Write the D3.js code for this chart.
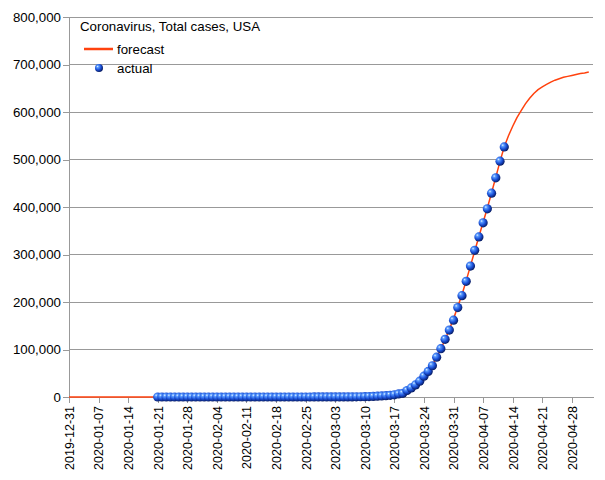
<!DOCTYPE html>
<html>
<head>
<meta charset="utf-8">
<script src="https://cdn.jsdelivr.net/npm/d3@7"></script>
<style>
  body { margin: 0; background: #fff; }
  text { font-family: "Liberation Sans", Arial, sans-serif; fill: #000; }
</style>
</head>
<body>
<div id="chart"></div>
<script>
var title = "Coronavirus, Total cases, USA";
var seriesNames = ["forecast", "actual"];

var xTicks = ["2019-12-31", "2020-01-07", "2020-01-14", "2020-01-21", "2020-01-28", "2020-02-04",
  "2020-02-11", "2020-02-18", "2020-02-25", "2020-03-03", "2020-03-10", "2020-03-17",
  "2020-03-24", "2020-03-31", "2020-04-07", "2020-04-14", "2020-04-21", "2020-04-28"];
var xDomain = ["2019-12-31", "2020-05-03"];
var yTicks = [0, 100000, 200000, 300000, 400000, 500000, 600000, 700000, 800000];

// daily totals, first value on actualStart
var actualStart = "2020-01-21";
var actual = [1, 1,
  1, 1, 2, 2, 5, 5, 5, 5, 5, 7,
  8, 8, 11, 11, 11, 11, 11, 11, 11, 11, 12, 12, 13, 13, 13, 13, 13, 13, 13, 13, 15, 15, 15, 51, 51, 57, 58, 60, 68,
  74, 98, 118, 149, 217, 262, 402, 518, 583, 959, 1281, 1663, 2179, 2727, 3499, 4632, 6421, 7783, 13677, 19100,
  25489, 33276, 43847, 53740, 65778, 83836, 101657, 121478, 140886, 161807, 188172,
  213372, 243453, 275586, 308850, 337072, 366667, 396223, 429052, 461437, 496535, 526396];

// forecast is flat at zero from forecastZeroFrom, then daily values from forecastStart
var forecastZeroFrom = "2019-12-31";
var forecastStart = "2020-02-29";
var forecast = [0,
  30, 45, 65, 95, 140, 200, 290, 410, 580, 820, 1150, 1600, 2200, 3000, 4100, 5500, 7300, 9600, 12500, 16200,
  21000, 27000, 34500, 43500, 54500, 67500, 83000, 101000, 121000, 142000, 165000,
  190000, 216000, 245000, 276000, 307000, 338000, 368000, 398000, 430000, 463000, 496000, 527000, 550000, 570000,
  588000, 603000, 617000, 629000, 639000, 647000, 653000, 658000, 663000, 667000, 670000, 673000, 675000, 677000,
  679000, 681000,
  682000, 684000];

var margin = { top: 17, right: 12, bottom: 83, left: 69 },
  width = 605 - margin.left - margin.right,
  height = 480 - margin.top - margin.bottom;

var parse = d3.utcParse("%Y-%m-%d");
var lineColor = "#ff420e";
var axisColor = "#999999";

var actualData = actual.map(function (v, i) {
  return { date: d3.utcDay.offset(parse(actualStart), i), value: v };
});
var forecastData = [{ date: parse(forecastZeroFrom), value: 0 }].concat(forecast.map(function (v, i) {
  return { date: d3.utcDay.offset(parse(forecastStart), i), value: v };
}));

var xScale = d3.scaleUtc()
  .domain(xDomain.map(parse))
  .range([0, width]);
var yScale = d3.scaleLinear()
  .domain([0, 800000])
  .range([height, 0]);

var svg = d3.select("#chart").append("svg")
  .attr("width", width + margin.left + margin.right)
  .attr("height", height + margin.top + margin.bottom);

var defs = svg.append("defs");
var grad = defs.append("radialGradient").attr("id", "ball")
  .attr("cx", "0.4").attr("cy", "0.38").attr("r", "0.62")
  .attr("fx", "0.32").attr("fy", "0.3");
grad.append("stop").attr("offset", "0%").attr("stop-color", "#e8f3ff");
grad.append("stop").attr("offset", "22%").attr("stop-color", "#5b9cff");
grad.append("stop").attr("offset", "62%").attr("stop-color", "#1a4fd6");
grad.append("stop").attr("offset", "100%").attr("stop-color", "#071b63");

var chartGroup = svg.append("g").attr("transform", "translate(" + margin.left + "," + margin.top + ")");

// gridlines
chartGroup.selectAll(".grid").data(yTicks.slice(1)).enter()
  .append("line")
  .attr("x1", 0).attr("x2", width)
  .attr("y1", function (d) { return yScale(d); })
  .attr("y2", function (d) { return yScale(d); })
  .attr("stroke", axisColor).attr("stroke-width", 1)
  .attr("shape-rendering", "crispEdges");

var yAxis = d3.axisLeft(yScale).tickValues(yTicks).tickFormat(d3.format(",")).tickSizeOuter(0).tickPadding(2);
var xAxis = d3.axisBottom(xScale).tickValues(xTicks.map(parse)).tickFormat(d3.utcFormat("%Y-%m-%d")).tickSizeOuter(0);

var gy = chartGroup.append("g").call(yAxis);
gy.selectAll("text").style("font-size", "13.3px");

var gx = chartGroup.append("g").attr("transform", "translate(0," + height + ")").call(xAxis);
gx.selectAll("text")
  .style("font-size", "12.5px")
  .attr("text-anchor", "end")
  .attr("transform", "rotate(-90)")
  .attr("x", -9).attr("y", 0).attr("dy", "0.35em");

[gx, gy].forEach(function (g) {
  g.selectAll("path, line").attr("stroke", axisColor).attr("shape-rendering", "crispEdges");
});

var line = d3.line()
  .x(function (d) { return xScale(d.date); })
  .y(function (d) { return yScale(d.value); });

chartGroup.append("path").datum(forecastData)
  .attr("d", line)
  .attr("fill", "none")
  .attr("stroke", lineColor)
  .attr("stroke-width", 1.5);

chartGroup.selectAll(".dot").data(actualData).enter()
  .append("circle")
  .attr("class", "dot")
  .attr("cx", function (d) { return xScale(d.date); })
  .attr("cy", function (d) { return yScale(d.value); })
  .attr("r", 4.6)
  .attr("fill", "url(#ball)");

// legend
var legend = svg.append("g");
legend.append("text").attr("x", 80).attr("y", 31).style("font-size", "13.3px").text(title);
legend.append("line").attr("x1", 84).attr("x2", 113).attr("y1", 49).attr("y2", 49)
  .attr("stroke", lineColor).attr("stroke-width", 2.5);
legend.append("text").attr("x", 117).attr("y", 54).style("font-size", "13.3px").text(seriesNames[0]);
legend.append("circle").attr("cx", 99).attr("cy", 68).attr("r", 4).attr("fill", "url(#ball)");
legend.append("text").attr("x", 117).attr("y", 72.5).style("font-size", "13.3px").text(seriesNames[1]);
</script>
</body>
</html>
